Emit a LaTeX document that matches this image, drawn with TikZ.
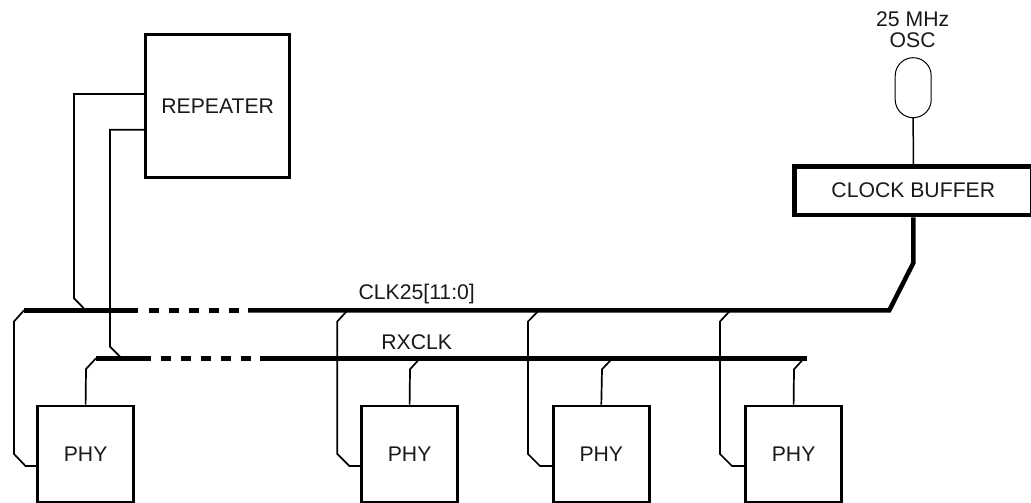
\documentclass[tikz,border=0pt]{standalone}
\usepackage{fontspec}
\setmainfont{Liberation Sans}
\begin{document}
\begin{tikzpicture}[x=1pt,y=-1pt,
  lbl/.style={inner sep=0pt,font=\fontsize{21.2}{21.2}\selectfont,text=black!90},
  blockbox/.style={draw,line width=2.7pt,minimum width=96pt,minimum height=96pt,inner sep=0pt,font=\fontsize{21.2}{21.2}\selectfont,text=black!90},
  thinwire/.style={line width=1.7pt,line join=miter},
  oscwire/.style={line width=1.5pt},
  buswire/.style={line width=4.7pt},
  busdash/.style={line width=4.7pt,dash pattern=on 10pt off 10pt},
  feedwire/.style={line width=4.5pt,line join=miter}]
\useasboundingbox (0,0) rectangle (1031,503);
% blocks
\node[blockbox,minimum width=144pt,minimum height=143.4pt] (rep) at (217.7,106) {REPEATER};
\node[blockbox] (p1) at (85.6,454) {PHY};
\node[blockbox] (p2) at (409.6,454) {PHY};
\node[blockbox] (p3) at (601.3,454) {PHY};
\node[blockbox] (p4) at (793.6,454) {PHY};
\node[draw,line width=4.7pt,minimum width=238pt,minimum height=48.5pt,inner sep=0pt,font=\fontsize{21.2}{21.2}\selectfont,text=black!90] (buf) at (913.3,190.7) {CLOCK BUFFER};
\node[draw,line width=1pt,rounded corners=18pt,minimum width=36pt,minimum height=60pt,inner sep=0pt] (osc) at (913.2,87.7) {};
% labels
\node[lbl] (f25) at (912.7,19.5) {25 MHz};
\node[lbl] (fosc) at (912.7,40) {OSC};
\node[lbl] (lclk) at (416.7,294) {CLK25[11:0]};
\node[lbl] (lrx) at (416.7,341.7) {RXCLK};
% bus coordinates
\coordinate (cA) at (24,310.3);
\coordinate (cB) at (138,310.3);
\coordinate (cC) at (149,310.3);
\coordinate (cD) at (239,310.3);
\coordinate (cE) at (248,310.3);
\coordinate (cF) at (889.3,310.3);
\coordinate (cG) at (913.3,263);
\coordinate (rA) at (96,358.3);
\coordinate (rB) at (150.7,358.3);
\coordinate (rC) at (161,358.3);
\coordinate (rD) at (251,358.3);
\coordinate (rE) at (260,358.3);
\coordinate (rF) at (806.7,358.3);
% buses
\draw[buswire] (cA) -- (cB);
\draw[busdash] (cC) -- (cD);
\draw[feedwire] (cE) -- (cF) -- (cG) -- (buf.south);
\draw[buswire] (rA) -- (rB);
\draw[busdash] (rC) -- (rD);
\draw[buswire] (rE) -- (rF);
% oscillator
\draw[oscwire] (osc.south) -- (buf.north);
% repeater wires
\draw[thinwire] (rep.west |- 0,94) -- (74,94) -- (74,298.3) -- (84.5,309);
\draw[thinwire] (rep.west |- 0,129.7) -- (110,129.7) -- (110,346.7) -- (120.5,357);
% PHY 1
\draw[thinwire] (cA) -- (14,321.5) -- (14,454) -- (25.5,466) -- (p1.west |- 0,466);
\draw[thinwire] (rA) -- (86,369) -- (p1.north);
% PHY 2
\draw[thinwire] (347.5,310.3) -- (337.3,321.5) -- (337.3,454) -- (349.3,466) -- (p2.west |- 0,466);
\draw[thinwire] (420,358.3) -- (410,369.3) -- (p2.north);
% PHY 3
\draw[thinwire] (539,310.3) -- (528,321.5) -- (528,454) -- (540,466) -- (p3.west |- 0,466);
\draw[thinwire] (612.5,358.3) -- (602,369.3) -- (p3.north);
% PHY 4
\draw[thinwire] (730.5,310.3) -- (720,321.5) -- (720,454) -- (732,466) -- (p4.west |- 0,466);
\draw[thinwire] (804,358.3) -- (794,369.3) -- (p4.north);
\end{tikzpicture}
\end{document}
